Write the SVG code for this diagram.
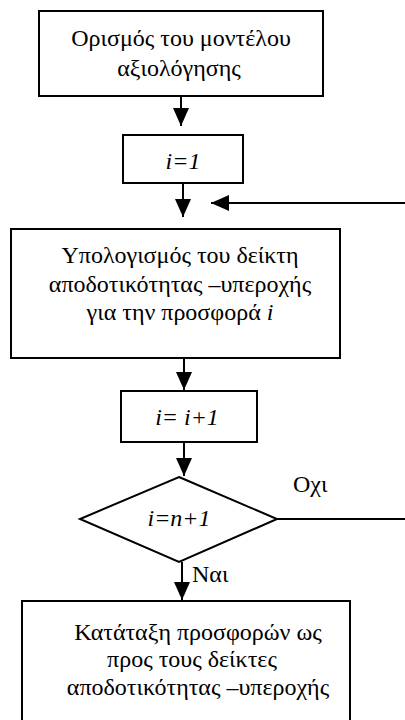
<svg xmlns="http://www.w3.org/2000/svg" width="405" height="720" viewBox="0 0 405 720">
<defs>
<style>
.box{fill:#fff;stroke:#000;stroke-width:2}
.ln{stroke:#000;stroke-width:2;fill:none}
</style>
<marker id="ah" viewBox="0 0 18 16" refX="18" refY="8" markerWidth="18" markerHeight="16" markerUnits="userSpaceOnUse" orient="auto">
<path d="M0,0 L18,8 L0,16 Z" fill="#000"/>
</marker>
</defs>
<rect width="405" height="720" fill="#fff"/>
<g id="connectors">
<line class="ln" x1="181" y1="96" x2="181" y2="126" marker-end="url(#ah)"/>
<line class="ln" x1="183" y1="183" x2="183" y2="217" marker-end="url(#ah)"/>
<line class="ln" x1="405" y1="203" x2="211" y2="203" marker-end="url(#ah)"/>
<line class="ln" x1="184" y1="358" x2="184" y2="390" marker-end="url(#ah)"/>
<line class="ln" x1="184" y1="442" x2="184" y2="476" marker-end="url(#ah)"/>
<line class="ln" x1="277" y1="519" x2="405" y2="519"/>
<line class="ln" x1="182" y1="562" x2="182" y2="600" marker-end="url(#ah)"/>
<text x="293" y="492" font-family="Liberation Serif" font-size="24">Οχι</text>
<text x="192" y="582" font-family="Liberation Serif" font-size="24">Ναι</text>
</g>
<g id="n1">
<rect class="box" x="39" y="11" width="284" height="85"/>
<text x="181" y="46" font-family="Liberation Serif" font-size="24" text-anchor="middle">Ορισμός του μοντέλου</text>
<text x="179" y="76" font-family="Liberation Serif" font-size="24" text-anchor="middle">αξιολόγησης</text>
</g>
<g id="n2">
<rect class="box" x="123" y="135" width="120" height="48"/>
<text x="183" y="169" font-family="Liberation Serif" font-size="24" text-anchor="middle" font-style="italic">i=1</text>
</g>
<g id="n3">
<rect class="box" x="11" y="229" width="329" height="129"/>
<text x="180" y="263" font-family="Liberation Serif" font-size="24" text-anchor="middle">Υπολογισμός του δείκτη</text>
<text x="180" y="292" font-family="Liberation Serif" font-size="24" text-anchor="middle">αποδοτικότητας –υπεροχής</text>
<text x="180" y="320" font-family="Liberation Serif" font-size="24" text-anchor="middle">για την προσφορά <tspan font-style="italic">i</tspan></text>
</g>
<g id="n4">
<rect class="box" x="121" y="391" width="136" height="51"/>
<text x="187" y="425" font-family="Liberation Serif" font-size="24" text-anchor="middle" font-style="italic">i= i+1</text>
</g>
<g id="n5">
<path class="box" d="M179,477 L277,519 L179,562 L80,519 Z"/>
<text x="179" y="526" font-family="Liberation Serif" font-size="24" text-anchor="middle" font-style="italic">i=n+1</text>
</g>
<g id="n6">
<rect class="box" x="22" y="601" width="328" height="130"/>
<text x="198" y="640" font-family="Liberation Serif" font-size="24" text-anchor="middle">Κατάταξη προσφορών ως</text>
<text x="192" y="667" font-family="Liberation Serif" font-size="24" text-anchor="middle">προς τους δείκτες</text>
<text x="198" y="695" font-family="Liberation Serif" font-size="24" text-anchor="middle">αποδοτικότητας –υπεροχής</text>
</g>
</svg>
